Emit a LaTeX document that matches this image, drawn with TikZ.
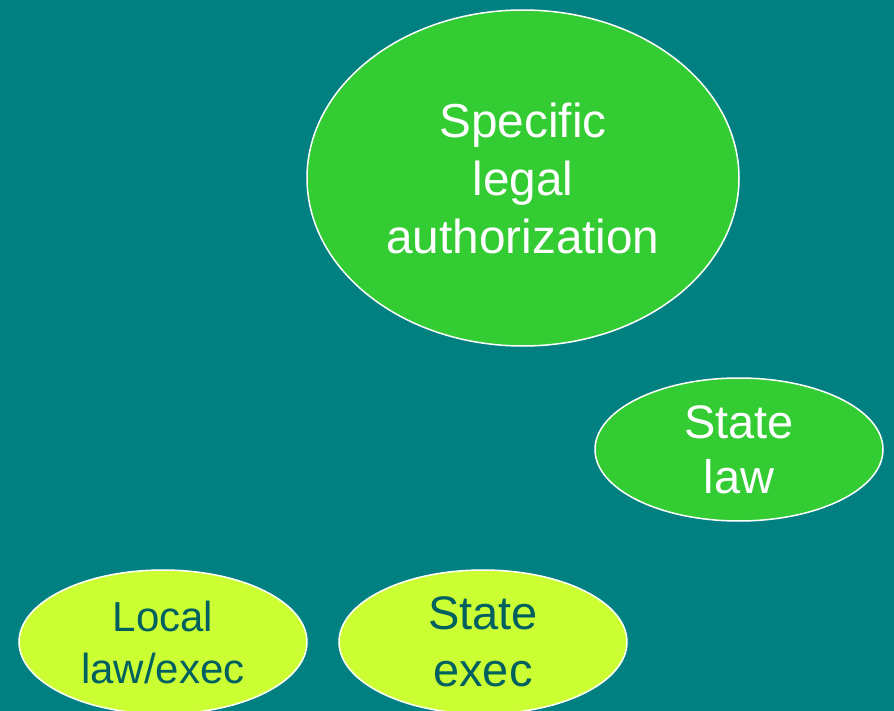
\documentclass[tikz,border=0pt]{standalone}
\usepackage{fontspec}
\setmainfont{Liberation Sans}
\usetikzlibrary{shapes.geometric}
\definecolor{bgteal}{HTML}{008080}
\definecolor{leafgreen}{HTML}{33CC33}
\definecolor{limegreen}{HTML}{CCFF33}
\definecolor{darkteal}{HTML}{006060}
\tikzset{
  oval/.style={ellipse, draw=white, line width=1.5pt, inner sep=0pt, align=center},
  greenoval/.style={oval, fill=leafgreen, text=white},
  limeoval/.style={oval, fill=limegreen, text=darkteal},
}
\begin{document}
\begin{tikzpicture}[x=1pt,y=-1pt]
\clip (0,0) rectangle (894,711);
\fill[bgteal] (0,0) rectangle (894,711);
\node[greenoval, minimum width=432pt, minimum height=336pt,
  font=\fontsize{47.7}{58}\selectfont] (spec) at (523,178)
  {Specific\\legal\\authorization};
\node[greenoval, minimum width=288pt, minimum height=143pt,
  font=\fontsize{47}{55}\selectfont] (statelaw) at (739,449.5)
  {State\\law};
\node[limeoval, minimum width=288pt, minimum height=144pt,
  font=\fontsize{42}{52}\selectfont] (local) at (163,642)
  {Local\\law/exec};
\node[limeoval, minimum width=288pt, minimum height=144pt,
  font=\fontsize{47}{57}\selectfont] (stateexec) at (483,642)
  {State\\exec};
\end{tikzpicture}
\end{document}
